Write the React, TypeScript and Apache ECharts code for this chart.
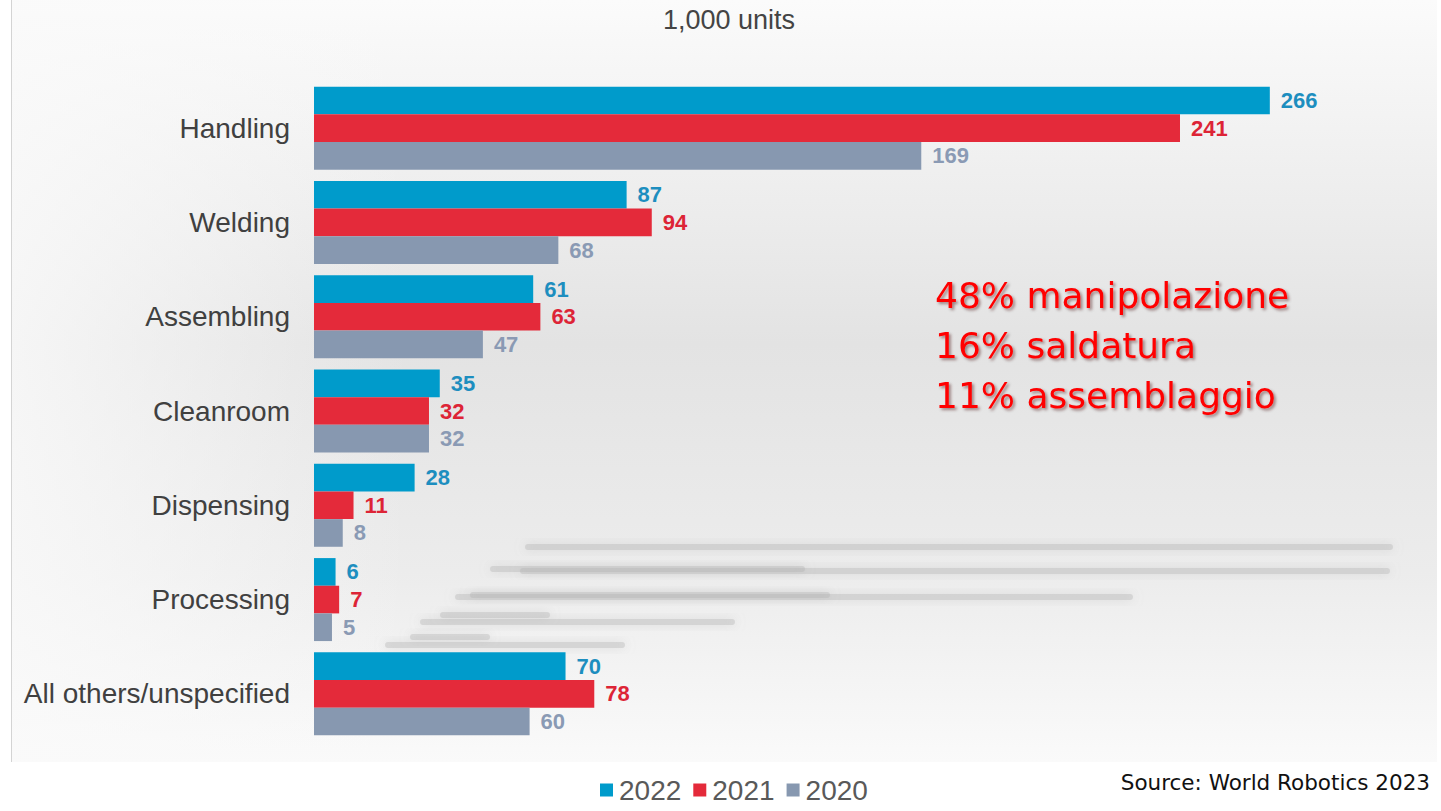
import React, { useEffect, useRef } from "react";
import * as echarts from "echarts";

const categories = [
  "Handling",
  "Welding",
  "Assembling",
  "Cleanroom",
  "Dispensing",
  "Processing",
  "All others/unspecified",
];
const seriesNames = ["2022", "2021", "2020"];
const values2022 = [266, 87, 61, 35, 28, 6, 70];
const values2021 = [241, 94, 63, 32, 11, 7, 78];
const values2020 = [169, 68, 47, 32, 8, 5, 60];
const barColors = ["#009BCB", "#E42A3A", "#8798B0"];
const labelColors = ["#1D8EBF", "#DD2436", "#8A9AB4"];
const overlayLines = ["48% manipolazione", "16% saldatura", "11% assemblaggio"];
const titleText = "1,000 units";
const sourceText = "Source: World Robotics 2023";

export default function App() {
  const ref = useRef<HTMLDivElement>(null);
  useEffect(() => {
    if (!ref.current) return;
    const chart = echarts.init(ref.current, undefined, { renderer: "svg" });
    const data = [values2022, values2021, values2020];
    const blurLines = [
      { x: 525, y: 544, w: 868 },
      { x: 520, y: 568, w: 870 },
      { x: 490, y: 566, w: 315 },
      { x: 455, y: 594, w: 678 },
      { x: 470, y: 592, w: 360 },
      { x: 420, y: 619, w: 315 },
      { x: 440, y: 612, w: 110 },
      { x: 385, y: 642, w: 240 },
      { x: 410, y: 634, w: 80 },
    ];
    chart.setOption({
      animation: false,
      backgroundColor: "#ffffff",
      title: {
        text: titleText,
        left: 724,
        top: 1,
        textAlign: "center",
        textStyle: {
          fontFamily: "'Liberation Sans', Arial, sans-serif",
          fontSize: 27,
          fontWeight: "normal",
          color: "#444444",
        },
      },
      legend: {
        data: seriesNames,
        left: 595,
        top: 771,
        itemWidth: 13,
        itemHeight: 13,
        itemGap: 12,
        icon: "rect",
        textStyle: {
          fontFamily: "'Liberation Sans', Arial, sans-serif",
          fontSize: 28,
          color: "#595959",
          padding: [0, 0, 0, 1],
        },
      },
      grid: { left: 314, top: 81, width: 1078, height: 660, containLabel: false },
      xAxis: {
        type: "value",
        min: 0,
        max: 300,
        show: false,
        splitLine: { show: false },
      },
      yAxis: {
        type: "category",
        data: categories,
        inverse: true,
        axisLine: { show: false },
        axisTick: { show: false },
        axisLabel: {
          margin: 24,
          fontFamily: "'Liberation Sans', Arial, sans-serif",
          fontSize: 28,
          color: "#404040",
        },
      },
      graphic: [
        {
          type: "rect",
          z: -10,
          silent: true,
          shape: { x: 11, y: 0, width: 1426, height: 762 },
          style: {
            fill: new echarts.graphic.LinearGradient(0, 0, 0, 1, [
              { offset: 0, color: "#fbfbfb" },
              { offset: 0.45, color: "#e3e3e3" },
              { offset: 0.75, color: "#ececec" },
              { offset: 1, color: "#fafafa" },
            ]),
          },
        },
        {
          type: "rect",
          z: -9,
          silent: true,
          shape: { x: 11, y: 0, width: 400, height: 762 },
          style: {
            fill: new echarts.graphic.LinearGradient(0, 0, 1, 0, [
              { offset: 0, color: "rgba(250,250,250,0.8)" },
              { offset: 1, color: "rgba(250,250,250,0)" },
            ]),
          },
        },
        {
          type: "line",
          z: -8,
          silent: true,
          shape: { x1: 11.5, y1: 0, x2: 11.5, y2: 762 },
          style: { stroke: "#d4d4d4", lineWidth: 1 },
        },
        ...blurLines.map((l) => ({
          type: "rect",
          z: -7,
          silent: true,
          shape: { x: l.x, y: l.y, width: l.w, height: 6, r: 3 },
          style: {
            fill: "rgba(175,175,175,0.35)",
            shadowBlur: 12,
            shadowColor: "rgba(160,160,160,0.8)",
          },
        })),
        ...overlayLines.map((t, i) => ({
          type: "text",
          z: 100,
          left: 935,
          top: 277 + i * 50,
          style: {
            text: t,
            fontFamily: "'DejaVu Sans', Verdana, sans-serif",
            fontSize: 36,
            fill: "#FF0000",
            textShadowColor: "rgba(60,0,0,0.45)",
            textShadowBlur: 3,
            textShadowOffsetX: 2,
            textShadowOffsetY: 2,
          },
        })),
        {
          type: "text",
          z: 100,
          right: 11,
          top: 771,
          style: {
            text: sourceText,
            fontFamily: "'DejaVu Sans', Verdana, sans-serif",
            fontSize: 21.5,
            fill: "#111111",
          },
        },
      ],
      series: seriesNames.map((name, i) => ({
        name,
        type: "bar",
        data: data[i],
        barGap: "0%",
        barCategoryGap: "12%",
        itemStyle: { color: barColors[i] },
        label: {
          show: true,
          position: "right",
          distance: 11,
          fontFamily: "'Liberation Sans', Arial, sans-serif",
          fontSize: 22,
          fontWeight: "bold",
          color: labelColors[i],
        },
      })),
    });
    return () => chart.dispose();
  }, []);
  return (
    <div
      ref={ref}
      style={{ position: "absolute", left: 0, top: 0, width: 1441, height: 811 }}
    />
  );
}
